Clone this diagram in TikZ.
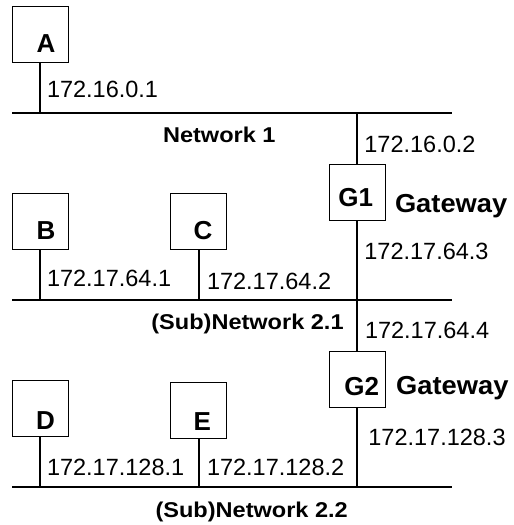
\documentclass[tikz,border=0pt]{standalone}
\usepackage{fontspec}
\setmainfont{Liberation Sans}
\newfontfamily\boldwide[FakeStretch=1.1]{Liberation Sans}
\newfontfamily\boldgw[FakeStretch=1.05]{Liberation Sans}
\begin{document}
\begin{tikzpicture}[x=1pt,y=-1pt,
  hostbox/.style={draw,line width=1pt,minimum width=56pt,minimum height=56pt,inner sep=0pt},
  hostname/.style={inner sep=0pt,anchor=base,font=\bfseries\fontsize{26}{31}\selectfont},
  ipaddr/.style={inner sep=0pt,anchor=base west,font=\fontsize{23.5}{28}\selectfont},
  netname/.style={inner sep=0pt,anchor=base,font=\boldwide\bfseries\fontsize{21.4}{26}\selectfont},
  gwname/.style={inner sep=0pt,anchor=base west,font=\boldgw\bfseries\fontsize{26}{31}\selectfont},
  wire/.style={line width=2pt}]
\useasboundingbox (0,0) rectangle (514,525);
% network segments
\coordinate (N1w) at (12,113);  \coordinate (N1e) at (452,113);
\coordinate (N21w) at (12,300); \coordinate (N21e) at (452,300);
\coordinate (N22w) at (12,487); \coordinate (N22e) at (452,487);
\draw[wire] (N1w) -- (N1e);
\draw[wire] (N21w) -- (N21e);
\draw[wire] (N22w) -- (N22e);
% boxes
\node[hostbox] (A) at (40,34) {};
\node[hostbox] (B) at (40,221) {};
\node[hostbox] (C) at (198.7,221) {};
\node[hostbox] (D) at (40,408.3) {};
\node[hostbox] (E) at (198.7,410.3) {};
\node[hostbox] (G1) at (357,192) {};
\node[hostbox] (G2) at (357,379.7) {};
% box letters
\node[hostname] (Atext) at (46,52) {A};
\node[hostname] (Btext) at (46,239) {B};
\node[hostname] (Ctext) at (203,239) {C};
\node[hostname] (Dtext) at (45.5,429.3) {D};
\node[hostname] (Etext) at (202.3,430) {E};
\node[hostname] (G1text) at (355.8,206) {G1};
\node[hostname] (G2text) at (361.7,395) {G2};
% drops
\draw[wire] (A.south) -- (A.south |- N1w);
\draw[wire] (B.south) -- (B.south |- N21w);
\draw[wire] (C.south) -- (C.south |- N21w);
\draw[wire] (D.south) -- (D.south |- N22w);
\draw[wire] (E.south) -- (E.south |- N22w);
\draw[wire] (G1.north) -- (G1.north |- N1w);
\draw[wire] (G1.south) -- (G1.south |- N21w);
\draw[wire] (G2.north) -- (G2.north |- N21w);
\draw[wire] (G2.south) -- (G2.south |- N22w);
% addresses
\node[ipaddr] (ipA) at (46.8,97) {172.16.0.1};
\node[ipaddr] (ipG1a) at (364.2,152.3) {172.16.0.2};
\node[ipaddr] (ipG1b) at (364.2,259.3) {172.17.64.3};
\node[ipaddr] (ipB) at (46.8,286.7) {172.17.64.1};
\node[ipaddr] (ipC) at (206.8,289.5) {172.17.64.2};
\node[ipaddr] (ipG2a) at (364.8,338.3) {172.17.64.4};
\node[ipaddr] (ipG2b) at (368.2,445.7) {172.17.128.3};
\node[ipaddr] (ipD) at (46.8,475) {172.17.128.1};
\node[ipaddr] (ipE) at (206.8,475) {172.17.128.2};
% network names
\node[netname] (net1) at (219.3,142.3) {Network 1};
\node[netname] (net21) at (247.5,329.3) {(Sub)Network 2.1};
\node[netname] (net22) at (251.7,517) {(Sub)Network 2.2};
% gateway labels
\node[gwname] (gw1) at (394.8,212) {Gateway};
\node[gwname] (gw2) at (396,394) {Gateway};
\end{tikzpicture}
\end{document}
